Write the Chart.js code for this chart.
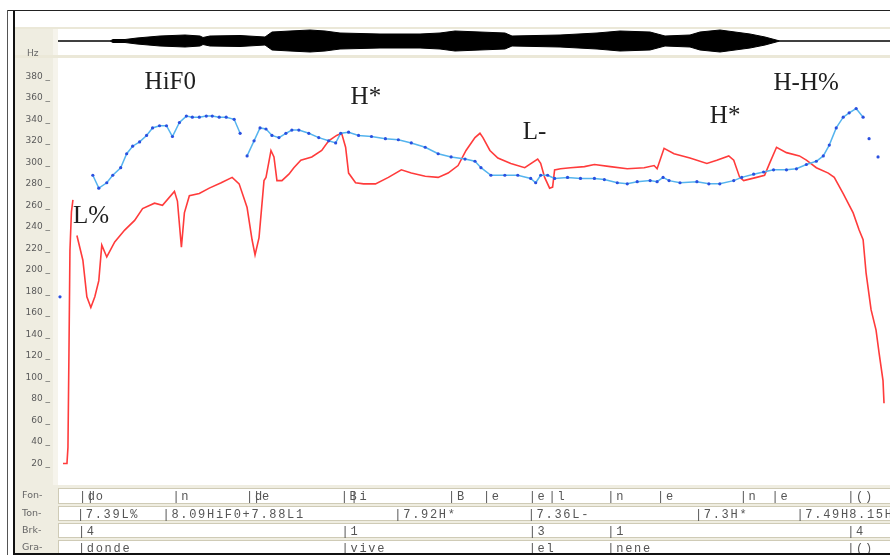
<!DOCTYPE html>
<html>
<head>
<meta charset="utf-8">
<script src="https://cdn.jsdelivr.net/npm/chart.js@4.4.0/dist/chart.umd.min.js"></script>
<style>
  html, body { margin: 0; padding: 0; background: #fff; }
  body { width: 890px; height: 555px; position: relative; overflow: hidden; }
  .box { position: absolute; }
  canvas { position: absolute; z-index: 1; }
  #frameTop { left: 7px; top: 10px; width: 883px; height: 1px; background: #222; z-index: 2; }
  #frameLeft { left: 7px; top: 10px; width: 1px; height: 545px; background: #555; z-index: 2; }
  #innerLeft { left: 13px; top: 11px; width: 2px; height: 543px; background: #111; z-index: 2; }
  #frameBottom { left: 13px; top: 553px; width: 877px; height: 2px; background: #111; z-index: 2; }
  #panelLeft { left: 15px; top: 27px; width: 43px; height: 526px; background: #efede1; }
  #panelEdge { left: 53px; top: 27px; width: 5px; height: 526px; background: #f6f4ec; }
  #bandTop { left: 15px; top: 27px; width: 875px; height: 2px; background: #ebe8d8; }
  #bandMid { left: 15px; top: 55px; width: 875px; height: 3px; background: #ebe8d8; }
  #tierBg { left: 15px; top: 485px; width: 875px; height: 68px; background: #efede1; }
</style>
</head>
<body>
<div class="box" id="panelLeft"></div>
<div class="box" id="panelEdge"></div>
<div class="box" id="bandTop"></div>
<div class="box" id="bandMid"></div>
<div class="box" id="tierBg"></div>
<div class="box" id="frameTop"></div>
<div class="box" id="frameLeft"></div>
<div class="box" id="innerLeft"></div>
<div class="box" id="frameBottom"></div>
<canvas id="wave" width="832" height="26" style="left:58px;top:28px"></canvas>
<canvas id="pitch" width="890" height="555" style="left:0;top:0"></canvas>
<script>
// time in ms, pitch in Hz
const redTime = [10, 18, 20, 22, 24, 27, 30, 34, 38, 50, 58, 66, 74, 82, 88, 98, 114, 134, 154, 170, 194, 210, 234, 240, 248, 254, 264, 284, 304, 328, 350, 364, 380, 390, 396, 404, 414, 418, 428, 434, 440, 450, 464, 474, 488, 510, 530, 544, 560, 570, 578, 584, 598, 614, 638, 664, 690, 710, 738, 764, 784, 804, 820, 838, 848, 854, 868, 884, 910, 938, 964, 970, 978, 988, 994, 998, 1010, 1030, 1058, 1078, 1110, 1144, 1178, 1198, 1204, 1218, 1238, 1270, 1304, 1324, 1348, 1358, 1370, 1378, 1404, 1420, 1430, 1444, 1464, 1490, 1504, 1524, 1548, 1560, 1578, 1598, 1610, 1618, 1624, 1634, 1644, 1650, 1658, 1660];
const redHz = [20, 20, 35, 122, 218, 254, 265, null, 232, 209, 175, 165, 175, 190, 223, 212, 226, 237, 246, 257, 262, 260, 273, 264, 221, 253, 269, 271, 276, 281, 286, 280, 258, 228, 214, 230, 283, 286, 311, 305, 283, 283, 289, 295, 302, 305, 311, 320, 325, 327, 314, 290, 281, 280, 280, 286, 293, 290, 287, 286, 290, 297, 311, 323, 327, 323, 311, 304, 299, 295, 303, 299, 286, 276, 277, 293, 294, 295, 296, 298, 296, 294, 295, 297, 294, 313, 308, 304, 299, 302, 306, 302, 286, 283, 286, 288, 299, 314, 309, 306, 302, 295, 290, 286, 271, 253, 237, 228, 197, 163, 144, 123, 97, 76];

const blueTime = [70, 82, 98, 110, 126, 138, 150, 164, 178, 190, 204, 218, 230, 244, 258, 270, 284, 298, 310, 324, 338, 354, 366, 373, 380, 394, 406, 418, 430, 444, 458, 470, 484, 504, 524, 544, 558, 568, 584, 604, 630, 658, 684, 710, 738, 764, 790, 818, 838, 850, 870, 898, 924, 950, 960, 970, 984, 998, 1024, 1050, 1078, 1098, 1124, 1144, 1164, 1190, 1204, 1216, 1228, 1250, 1284, 1308, 1330, 1358, 1374, 1398, 1418, 1438, 1464, 1484, 1504, 1524, 1538, 1550, 1564, 1578, 1590, 1604, 1618];
const blueHz = [288, 276, 281, 288, 295, 308, 315, 319, 325, 332, 334, 334, 324, 337, 343, 342, 342, 343, 343, 342, 342, 340, 327, null, 306, 320, 332, 331, 325, 323, 327, 330, 330, 327, 323, 320, 318, 327, 328, 325, 324, 322, 321, 318, 314, 308, 305, 303, 301, 295, 288, 288, 288, 285, 281, 288, 288, 285, 286, 285, 285, 284, 281, 280, 282, 283, 282, 286, 283, 281, 282, 280, 280, 283, 286, 289, 291, 293, 293, 294, 298, 301, 306, 316, 332, 342, 346, 350, 342];
const strayTime = [4, 1630, 1648];
const strayHz = [175, 322, 305];

const hzTicks = [20, 40, 60, 80, 100, 120, 140, 160, 180, 200, 220, 240, 260, 280, 300, 320, 340, 360, 380];

// amplitude envelope of the waveform strip
const waveTime = [0, 104, 110, 134, 158, 204, 254, 284, 290, 304, 364, 414, 428, 464, 504, 534, 564, 644, 724, 764, 794, 844, 894, 908, 1004, 1078, 1124, 1184, 1214, 1264, 1284, 1324, 1354, 1384, 1414, 1440, 1444, 1664];
const waveAmp = [0, 0, 1.5, 1.5, 3, 5, 6, 5, 3.5, 5, 5.5, 4, 9, 10, 11, 10, 8, 7, 7, 8, 10, 9, 8, 5, 6, 8, 10, 9, 5, 6, 9, 11, 9, 7, 4, 0.5, 0, 0];

// tone annotations
const toneText = ['HiF0', 'H*', 'L-', 'H*', 'H-H%', 'L%'];
const toneTime = [174, 588, 934, 1310, 1438, 30];
const toneHz = [368, 354, 322, 337, 367, 244];

// annotation tiers
const fonTime = [46, 62, 234, 382, 396, 572, 592, 788, 858, 950, 990, 1108, 1208, 1374, 1438, 1590];
const fonLabels = ['|d', '|o', '|n', '|d', '|e', '|B', '|i', '|B', '|e', '|e', '|l', '|n', '|e', '|n', '|e', '|()'];
const tonTime = [42, 214, 680, 948, 1284, 1488, 1594];
const tonLabels = ['|7.39L%', '|8.09HiF0+7.88L1', '|7.92H*', '|7.36L-', '|7.3H*', '|7.49H', '8.15H%'];
const brkTime = [44, 574, 950, 1108, 1590];
const brkLabels = ['|4', '|1', '|3', '|1', '|4'];
const graTime = [44, 574, 950, 1108, 1590];
const graLabels = ['|donde', '|vive', '|el', '|nene', '|()'];

const xMax = 1664;
const pts = (xs, ys) => xs.map((t, i) => ({ x: t, y: ys[i] }));

new Chart(document.getElementById('wave'), {
    type: 'line',
    data: {
        datasets: [
            { data: pts(waveTime, waveAmp), borderColor: '#000', borderWidth: 1, backgroundColor: '#000', fill: '+1', pointRadius: 0 },
            { data: pts(waveTime, waveAmp.map(a => -a)), borderColor: '#000', borderWidth: 1, pointRadius: 0 }
        ]
    },
    options: {
        responsive: false,
        animation: false,
        events: [],
        layout: { padding: 0 },
        plugins: { legend: { display: false }, tooltip: { enabled: false } },
        scales: {
            x: { type: 'linear', display: false, min: 0, max: xMax },
            y: { display: false, min: -13, max: 13 }
        }
    }
});

const tierRows = [
    { name: 'Fon-', top: 488, h: 16, times: fonTime, labels: fonLabels },
    { name: 'Ton-', top: 506, h: 15, times: tonTime, labels: tonLabels },
    { name: 'Brk-', top: 523, h: 15, times: brkTime, labels: brkLabels },
    { name: 'Gra-', top: 540, h: 15, times: graTime, labels: graLabels }
];

const overlay = {
    id: 'overlay',
    afterDatasetsDraw(chart) {
        const ctx = chart.ctx, x = chart.scales.x, y = chart.scales.y;
        ctx.save();
        ctx.font = '25px "Liberation Serif"';
        ctx.fillStyle = '#1e1e1e';
        ctx.textBaseline = 'alphabetic';
        toneText.forEach((t, i) => {
            ctx.fillText(t, x.getPixelForValue(toneTime[i]), y.getPixelForValue(toneHz[i]));
        });
        ctx.restore();
    },
    afterDraw(chart) {
        const ctx = chart.ctx, x = chart.scales.x;
        ctx.save();
        ctx.font = '9px "DejaVu Sans"';
        ctx.fillStyle = '#666';
        ctx.textBaseline = 'middle';
        ctx.fillText('Hz', 27, 54);

        tierRows.forEach(r => {
            ctx.fillStyle = '#fff';
            ctx.fillRect(59, r.top, 831, r.h);
            ctx.strokeStyle = '#cfcbb6';
            ctx.lineWidth = 1;
            ctx.strokeRect(58.5, r.top + 0.5, 832, r.h - 1);

            ctx.font = '9.5px "DejaVu Sans"';
            ctx.fillStyle = '#666';
            ctx.textAlign = 'left';
            ctx.fillText(r.name, 22, r.top + r.h / 2);

            ctx.font = '12px "Liberation Mono"';
            ctx.letterSpacing = '1.7px';
            ctx.fillStyle = '#555';
            r.labels.forEach((l, i) => {
                ctx.fillText(l, x.getPixelForValue(r.times[i]) - 2, r.top + r.h / 2 + 1);
            });
            ctx.letterSpacing = '0px';
        });
        ctx.restore();
    }
};

new Chart(document.getElementById('pitch'), {
    type: 'line',
    data: {
        datasets: [
            {
                data: pts(blueTime, blueHz),
                borderColor: '#55b4ee',
                borderWidth: 1.5,
                pointRadius: 1.6,
                pointBackgroundColor: '#2a4fe0',
                pointBorderWidth: 0,
                spanGaps: false,
                order: 0
            },
            {
                data: pts(strayTime, strayHz),
                showLine: false,
                pointRadius: 1.6,
                pointBackgroundColor: '#2a4fe0',
                pointBorderWidth: 0,
                order: 0
            },
            {
                data: pts(redTime, redHz),
                borderColor: '#ff3b3b',
                borderWidth: 1.6,
                pointRadius: 0,
                spanGaps: false,
                order: 1
            }
        ]
    },
    options: {
        responsive: false,
        animation: false,
        events: [],
        layout: { padding: { left: 0, right: 0, top: 58, bottom: 70 } },
        plugins: { legend: { display: false }, tooltip: { enabled: false } },
        scales: {
            x: { type: 'linear', display: false, min: 0, max: xMax },
            y: {
                min: 0,
                max: 397,
                afterFit: s => { s.width = 58; },
                afterBuildTicks: s => { s.ticks = hzTicks.map(v => ({ value: v })); },
                grid: { display: false, drawTicks: false },
                border: { display: false },
                ticks: {
                    padding: 8,
                    color: '#5a5a5a',
                    font: { family: 'DejaVu Sans', size: 9 },
                    callback: v => v + ' _'
                }
            }
        }
    },
    plugins: [overlay]
});
</script>
</body>
</html>
